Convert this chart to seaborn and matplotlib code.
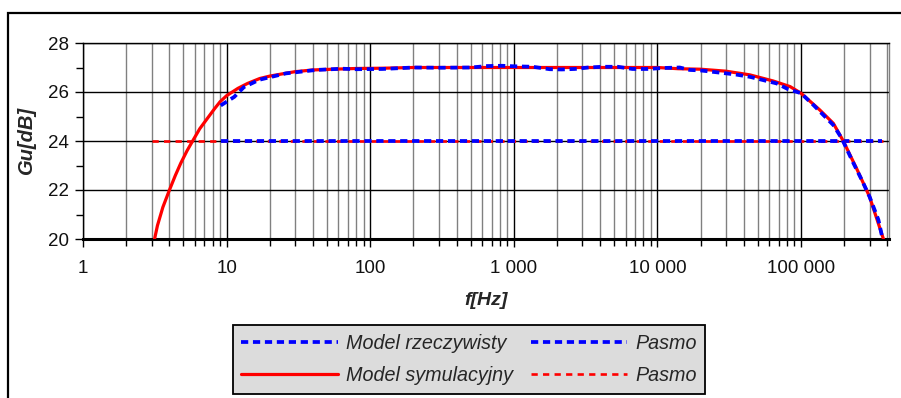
import matplotlib
matplotlib.use("Agg")
import matplotlib.pyplot as plt
import seaborn as sns
import pandas as pd
from matplotlib.ticker import FixedLocator, LogLocator, NullFormatter, MultipleLocator
from matplotlib.lines import Line2D
from matplotlib.patches import Rectangle

# ---- data ----
sim_f = [3.15, 3.3, 3.6, 4.0, 4.4, 4.8, 5.3, 5.8, 6.5, 7.3, 8.2, 9, 10, 12, 14, 17, 20, 25, 30,
         40, 55, 80, 120, 200, 500, 1000, 2000, 5000, 10000, 14000, 20000, 30000, 44000,
         64000, 84000, 100000, 135000, 168000, 197000, 245000, 300000, 375000]
sim_g = [20.0, 20.55, 21.3, 22.0, 22.6, 23.1, 23.6, 24.0, 24.5, 24.9, 25.3, 25.6, 25.85, 26.15,
         26.35, 26.55, 26.65, 26.75, 26.83, 26.9, 26.93, 26.96, 26.97, 27.0, 27.0, 27.0, 27.0,
         27.0, 27.0, 26.95, 26.93, 26.85, 26.7, 26.45, 26.22, 25.95, 25.27, 24.72, 24.0,
         22.85, 21.73, 20.0]

real_f = [9.1, 11.3, 13.2, 16.9, 25.9, 42, 64, 80, 122, 200, 303, 500, 656, 835, 1000, 1350,
          1780, 2160, 2660, 3300, 4170, 5300, 6700, 8500, 11000, 14300, 16800, 20000, 27200,
          34600, 44000, 67700, 81000, 100000, 122000, 168000, 192000, 232000, 265000,
          300000, 346000, 365000]
real_g = [25.45, 25.8, 26.2, 26.5, 26.76, 26.9, 26.95, 26.93, 26.94, 27.0, 26.99, 27.0, 27.06,
          27.07, 27.05, 27.03, 26.93, 26.92, 26.94, 27.0, 27.03, 27.03, 26.94, 26.94, 26.98,
          27.0, 26.9, 26.88, 26.79, 26.72, 26.62, 26.35, 26.12, 25.95, 25.47, 24.65, 24.11,
          23.09, 22.41, 21.73, 20.78, 20.16]

band_real_f = [9.1, 365000]
band_real_g = [24, 24]
band_sim_f = [3.0, 375000]
band_sim_g = [24, 24]

xticks = [1, 10, 100, 1000, 10000, 100000]
xticklabels = ["1", "10", "100", "1 000", "10 000", "100 000"]
yticks = [20, 22, 24, 26, 28]

labels = ["Model rzeczywisty", "Model symulacyjny", "Pasmo", "Pasmo"]

# ---- style ----
sns.set_theme(style="white")
plt.rcParams["font.family"] = ["Liberation Sans", "DejaVu Sans"]
plt.rcParams["lines.scale_dashes"] = False

fig = plt.figure(figsize=(9.01, 3.98), dpi=100)
ax = fig.add_axes([83 / 901, 1 - 239 / 398, (889 - 83) / 901, (239 - 43) / 398])

df_sim = pd.DataFrame({"f": sim_f, "g": sim_g})
df_real = pd.DataFrame({"f": real_f, "g": real_g})
df_bs = pd.DataFrame({"f": band_sim_f, "g": band_sim_g})
df_br = pd.DataFrame({"f": band_real_f, "g": band_real_g})

dash_blue = (0, (5.2, 3.4))
dash_red = (0, (4.5, 3.8))
LW_BLUE, LW_RED, LW_RED_D = 2.7, 2.3, 1.9

sns.lineplot(data=df_bs, x="f", y="g", ax=ax, color="#ff0000", lw=LW_RED_D, linestyle=dash_red, zorder=3)
sns.lineplot(data=df_br, x="f", y="g", ax=ax, color="#0000ff", lw=LW_BLUE, linestyle=dash_blue, zorder=4)
sns.lineplot(data=df_sim, x="f", y="g", ax=ax, color="#ff0000", lw=LW_RED, zorder=5)
sns.lineplot(data=df_real, x="f", y="g", ax=ax, color="#0000ff", lw=LW_BLUE, linestyle=dash_blue, zorder=6)

ax.set_xscale("log")
ax.set_xlim(1, 410000)
ax.set_ylim(20, 28)

ax.xaxis.set_major_locator(FixedLocator(xticks))
ax.set_xticklabels(xticklabels)
ax.xaxis.set_minor_locator(LogLocator(base=10, subs=range(2, 10), numticks=20))
ax.xaxis.set_minor_formatter(NullFormatter())
ax.yaxis.set_major_locator(FixedLocator(yticks))
ax.yaxis.set_minor_locator(MultipleLocator(1))

ax.grid(which="major", axis="both", color="black", lw=1.0, zorder=1)
ax.grid(which="minor", axis="x", color="#808080", lw=1.0, zorder=1)
ax.set_axisbelow(True)

ax.tick_params(axis="both", which="major", direction="out", length=6, width=1, color="black",
               labelsize=13.5, labelcolor="#111111", pad=4, bottom=True, left=True)
ax.tick_params(axis="both", which="minor", direction="out", length=5, width=1, color="black",
               bottom=True, left=True)
ax.tick_params(axis="x", which="major", pad=9)

ax.spines["top"].set_color("black")
ax.spines["top"].set_linewidth(1.0)
ax.spines["right"].set_color("#808080")
ax.spines["right"].set_linewidth(1.0)
ax.spines["left"].set_color("black")
ax.spines["left"].set_linewidth(1.0)
ax.spines["bottom"].set_color("black")
ax.spines["bottom"].set_linewidth(2.2)

ax.set_xlabel("f[Hz]", fontsize=14, fontweight="bold", fontstyle="italic", labelpad=11)
ax.set_ylabel("Gu[dB]", fontsize=14.5, fontweight="bold", fontstyle="italic", labelpad=9)

handles = [
    Line2D([], [], color="#0000ff", lw=LW_BLUE, linestyle=dash_blue),
    Line2D([], [], color="#ff0000", lw=LW_RED),
    Line2D([], [], color="#0000ff", lw=LW_BLUE, linestyle=dash_blue),
    Line2D([], [], color="#ff0000", lw=LW_RED_D, linestyle=dash_red),
]
leg = fig.legend(handles, labels, ncol=2, loc="upper center", bbox_to_anchor=(469 / 901, 1 - 325 / 398),
                 frameon=True, fancybox=False, facecolor="#dcdcdc", edgecolor="black", framealpha=1,
                 prop={"size": 14.2, "style": "italic"}, handlelength=4.9, handletextpad=0.4,
                 columnspacing=0.9, labelspacing=0.68, borderpad=0.44, borderaxespad=0)
leg.get_frame().set_linewidth(1.3)

fig.patches.append(Rectangle((8 / 901, -0.1), 1.2, 1 - 13 / 398 + 0.1, transform=fig.transFigure,
                             fill=False, edgecolor="black", lw=1.6))

fig.savefig("out.png", dpi=100)
